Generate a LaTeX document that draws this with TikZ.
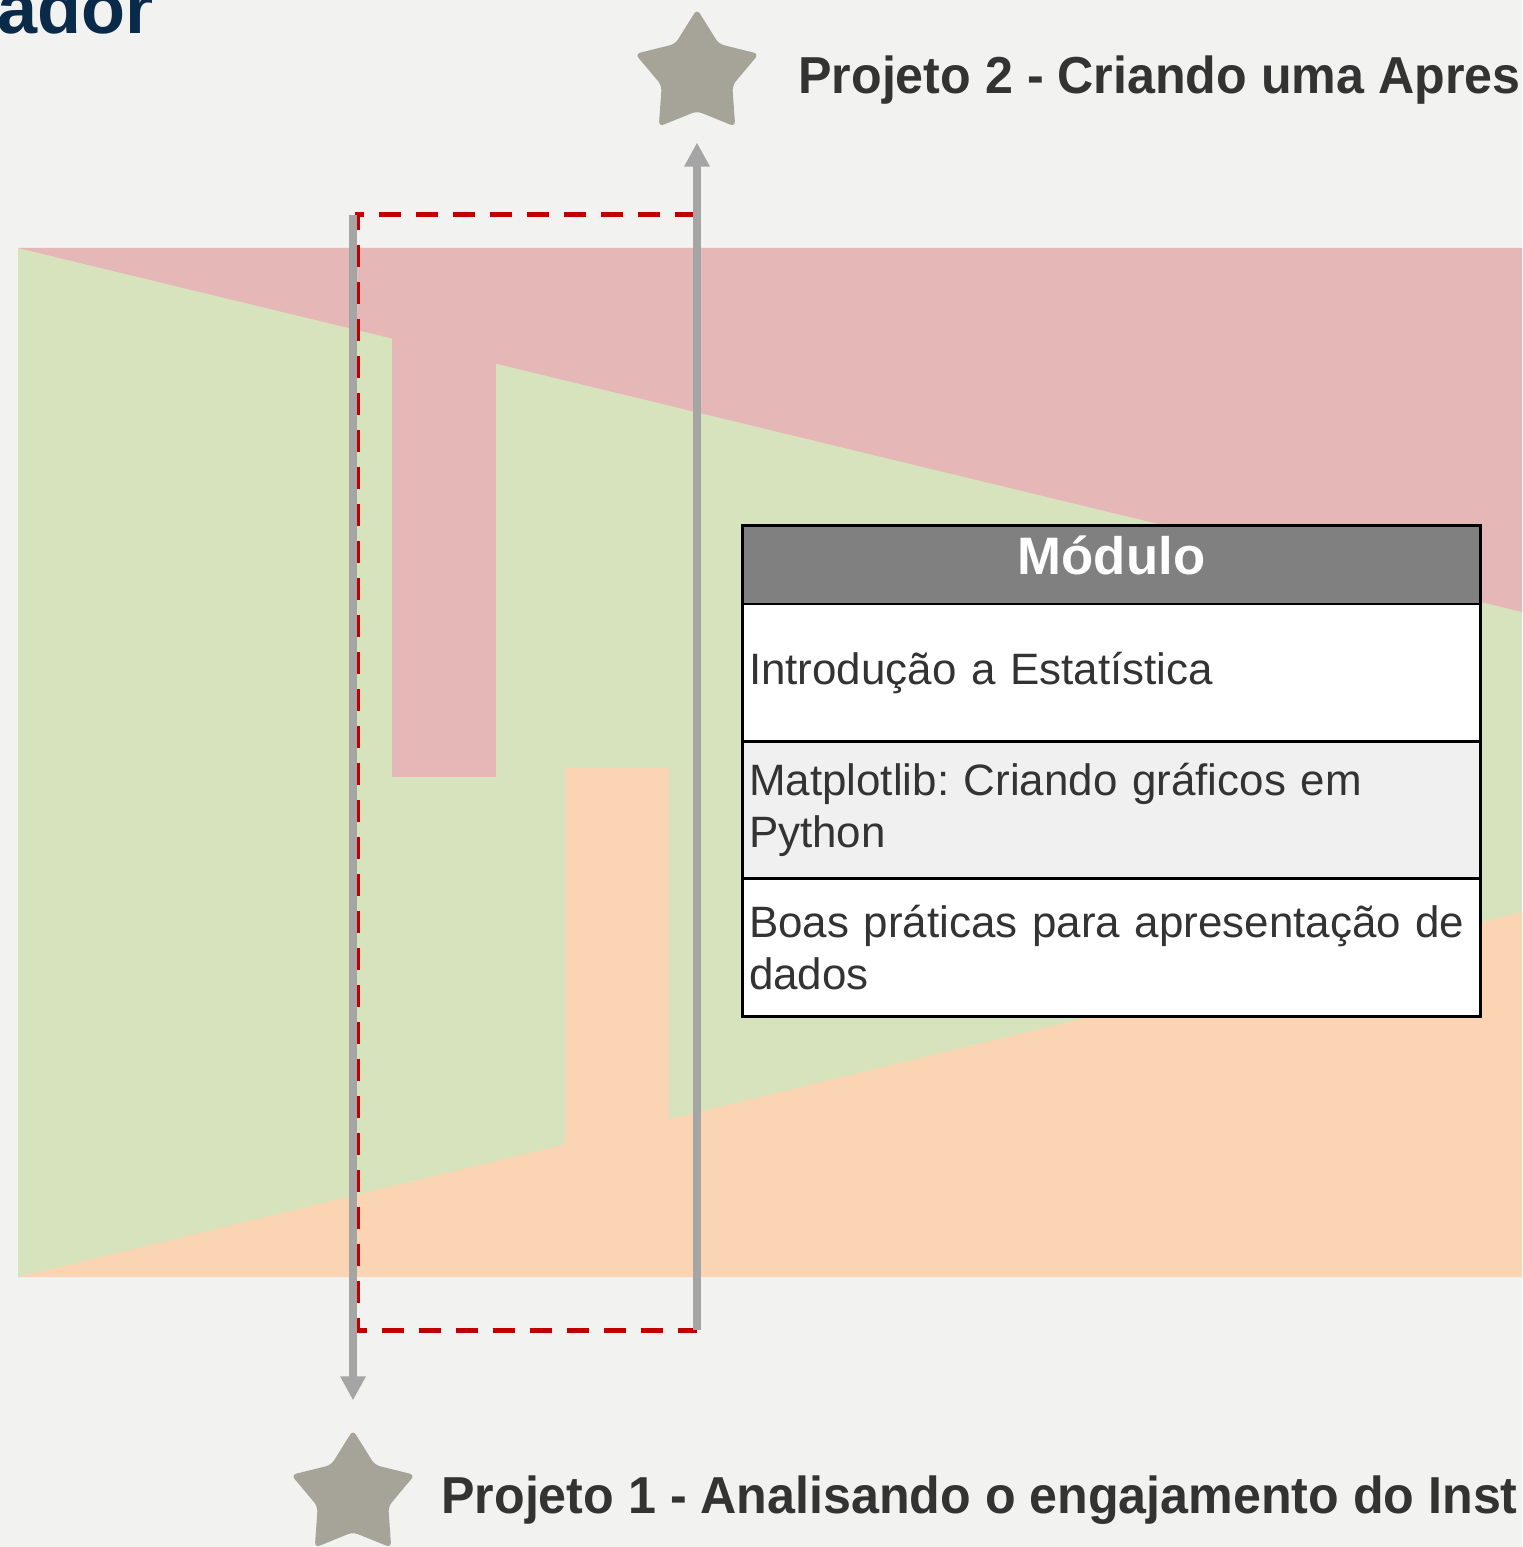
\documentclass[tikz,border=0pt]{standalone}
\usepackage{fontspec}
\setmainfont{Liberation Sans}
\newfontfamily\titlefont[FakeStretch=0.965]{Liberation Sans}
\usetikzlibrary{positioning,shapes.geometric,arrows.meta}
\frenchspacing

\definecolor{paper}{RGB}{242,242,240}
\definecolor{bandred}{RGB}{229,184,183}
\definecolor{bandgreen}{RGB}{215,227,188}
\definecolor{bandorange}{RGB}{251,212,180}
\definecolor{arrowgray}{RGB}{165,165,165}
\definecolor{stargray}{RGB}{166,163,153}
\definecolor{dashred}{RGB}{192,0,0}
\definecolor{headgray}{RGB}{128,128,128}
\definecolor{rowgray}{RGB}{240,240,240}
\definecolor{textgray}{RGB}{51,51,51}
\definecolor{navy}{RGB}{10,42,74}

\begin{document}
\begin{tikzpicture}[x=0.02cm,y=-0.02cm,node distance=0pt,
    goal/.style={star,star points=5,star point ratio=1.75,minimum size=2.6cm,
                 inner sep=0pt,fill=stargray,rounded corners=3pt},
    projtitle/.style={anchor=base west,inner sep=0pt,text=textgray,
                 font=\titlefont\fontsize{29.6}{34}\selectfont\bfseries},
    modhead/.style={draw=black,line width=1.7pt,outer sep=0pt,fill=headgray,text=white,
                 minimum width=14.78cm,minimum height=1.58cm,inner sep=0pt,text depth=0.36cm,
                 font=\fontsize{30}{34}\selectfont\bfseries},
    modrow/.style={draw=black,line width=1.7pt,outer sep=0pt,fill=white,text=textgray,
                 text width=14.5cm,inner xsep=0.14cm,inner ysep=0pt,minimum height=2.75cm,
                 align=left,font=\fontsize{25}{29.6}\selectfont},
    flow/.style={draw=arrowgray,line width=0.16cm,-{Triangle[length=0.48cm,width=0.48cm]}}]

    \useasboundingbox[fill=paper] (0,0) rectangle (1522,1547);
    \clip (0,0) rectangle (1522,1547);

    % bands
    \fill[bandgreen]  (18,248) rectangle (1522,1277);
    \fill[bandred]    (18,248) -- (1522,248) -- (1522,612) -- cycle;
    \fill[bandred]    (392,300) rectangle (496,777);
    \fill[bandorange] (18,1277) -- (1522,912) -- (1522,1277) -- cycle;
    \fill[bandorange] (565,768) rectangle (669,1200);

    \node[anchor=base west,inner sep=0pt,text=navy,
          font=\fontsize{41}{48}\selectfont\bfseries] (h_0) at (-3,34) {ador};

    \node[goal]      (s_2) at (697,74)   {};
    \node[goal]      (s_1) at (353,1495) {};
    \node[projtitle] (t_2) at (798,94)   {Projeto 2 - Criando uma Apres};
    \node[projtitle] (t_1) at (441,1513) {Projeto 1 - Analisando o engajamento do Inst};

    \coordinate (d_1) at (697,215);
    \coordinate (d_2) at (357,215);
    \coordinate (d_3) at (357,1330);
    \coordinate (d_4) at (697,1330);
    \coordinate (a_1) at (353,215);

    \draw[dashred,line width=0.1cm,dash pattern=on 0.44cm off 0.3cm]
        (d_1) -- (d_2) -- (d_3) -- (d_4);
    \draw[flow,shorten >=0.58cm] (a_1) -- (s_1.north);
    \draw[flow,shorten >=0.62cm] (d_4) -- (s_2.south);

    \node[modhead]             (m_0) at (1111.5,564.5) {Módulo};
    \node[modrow]              (m_1) [below=of m_0] {Introdução a Estatística};
    \node[modrow,fill=rowgray] (m_2) [below=of m_1] {Matplotlib: Criando gráficos em\\Python};
    \node[modrow]              (m_3) [below=of m_2] {Boas práticas para apresentação de\\dados};
\end{tikzpicture}
\end{document}
